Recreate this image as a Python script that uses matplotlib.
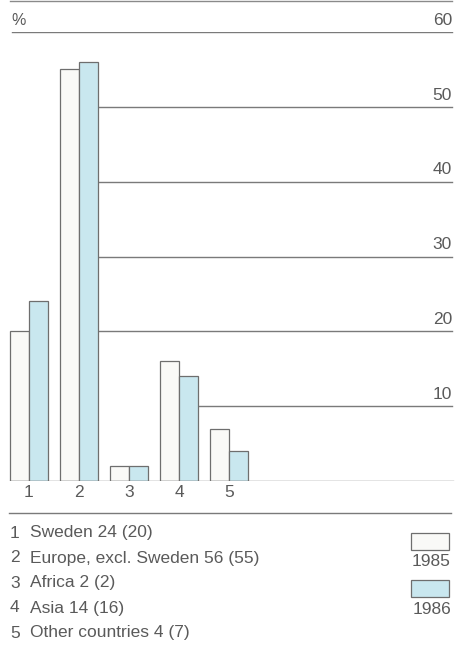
import matplotlib.pyplot as plt
from matplotlib.patches import Rectangle
from matplotlib.lines import Line2D

# data: share per region, %
regions = ["Sweden", "Europe, excl. Sweden", "Africa", "Asia", "Other countries"]
share_1985 = [20, 55, 2, 16, 7]
share_1986 = [24, 56, 2, 14, 4]
years = ["1985", "1986"]
levels = [10, 20, 30, 40, 50, 60]

TXT = "#5a5a5a"
EDGE = "#6e6e6e"
C85 = "#f9f9f7"
C86 = "#c9e7ef"

plt.rcParams["font.family"] = ["Liberation Sans", "DejaVu Sans"]

W, H = 456, 663
fig = plt.figure(figsize=(W / 100, H / 100), dpi=100)

# plot area: baseline at y=481 px, 60 % line at y=32 px
y0, y60 = 481, 32
ax = fig.add_axes([0, (H - y0) / H, 1, (y0 - y60) / H])
step = 50.0  # px between groups
c0 = 29.0    # px of first group centre
ax.set_xlim(-c0 / step, (W - c0) / step)
ax.set_ylim(0, 60)
ax.axis("off")

bw = 0.38
xs = list(range(len(regions)))
ax.bar([x - bw for x in xs], share_1985, width=bw, align="edge",
       color=C85, edgecolor=EDGE, linewidth=0.9, zorder=3)
ax.bar(xs, share_1986, width=bw, align="edge",
       color=C86, edgecolor=EDGE, linewidth=0.9, zorder=3)

x_left = -bw
x_right = (452 - c0) / step

# each grid line starts right of the last bar that reaches it
for lv in levels:
    start = x_left + 0.04
    for i in xs:
        if share_1986[i] >= lv:
            start = i + bw
        elif share_1985[i] >= lv:
            start = i
    ax.plot([start, x_right], [lv, lv], color="#7a7a7a", lw=1.0, zorder=2)
    ax.annotate(str(lv), (x_right, lv), xytext=(0, 3), textcoords="offset points",
                ha="right", va="bottom", fontsize=12.5, color=TXT)

ax.annotate("%", (x_left, 60), xytext=(1, 3), textcoords="offset points",
            ha="left", va="bottom", fontsize=11.5, color=TXT)

# baseline
ax.plot([x_left, x_right + 0.02], [0, 0], color="#7a7a7a", lw=1.0, zorder=4)

for i in xs:
    ax.annotate(str(i + 1), (i, 0), xytext=(0, -3), textcoords="offset points",
                ha="center", va="top", fontsize=12.5, color=TXT)


def fx(px):
    return px / W


def fy(px):
    return 1 - px / H


# top rule and separator
fig.add_artist(Line2D([fx(10), fx(452)], [fy(1), fy(1)], color="#8a8a8a", lw=1.0))
fig.add_artist(Line2D([fx(9), fx(451)], [fy(513), fy(513)], color="#7a7a7a", lw=1.0))

# region list
for i, name in enumerate(regions):
    yy = fy(533 + 25 * i)
    fig.text(fx(10), yy, str(i + 1), ha="left", va="center", fontsize=12.5, color=TXT)
    fig.text(fx(30), yy, f"{name} {share_1986[i]} ({share_1985[i]})",
             ha="left", va="center", fontsize=12.5, color=TXT)

# year keys
for k, (yr, col) in enumerate(zip(years, [C85, C86])):
    top = 533 + 47 * k
    fig.add_artist(Rectangle((fx(411), fy(top + 17)), fx(38), 17 / H,
                             transform=fig.transFigure, facecolor=col,
                             edgecolor=EDGE, lw=0.9))
    fig.text(fx(451), fy(top + 29), yr, ha="right", va="center",
             fontsize=12.5, color=TXT)

fig.savefig("out.png", dpi=100)
